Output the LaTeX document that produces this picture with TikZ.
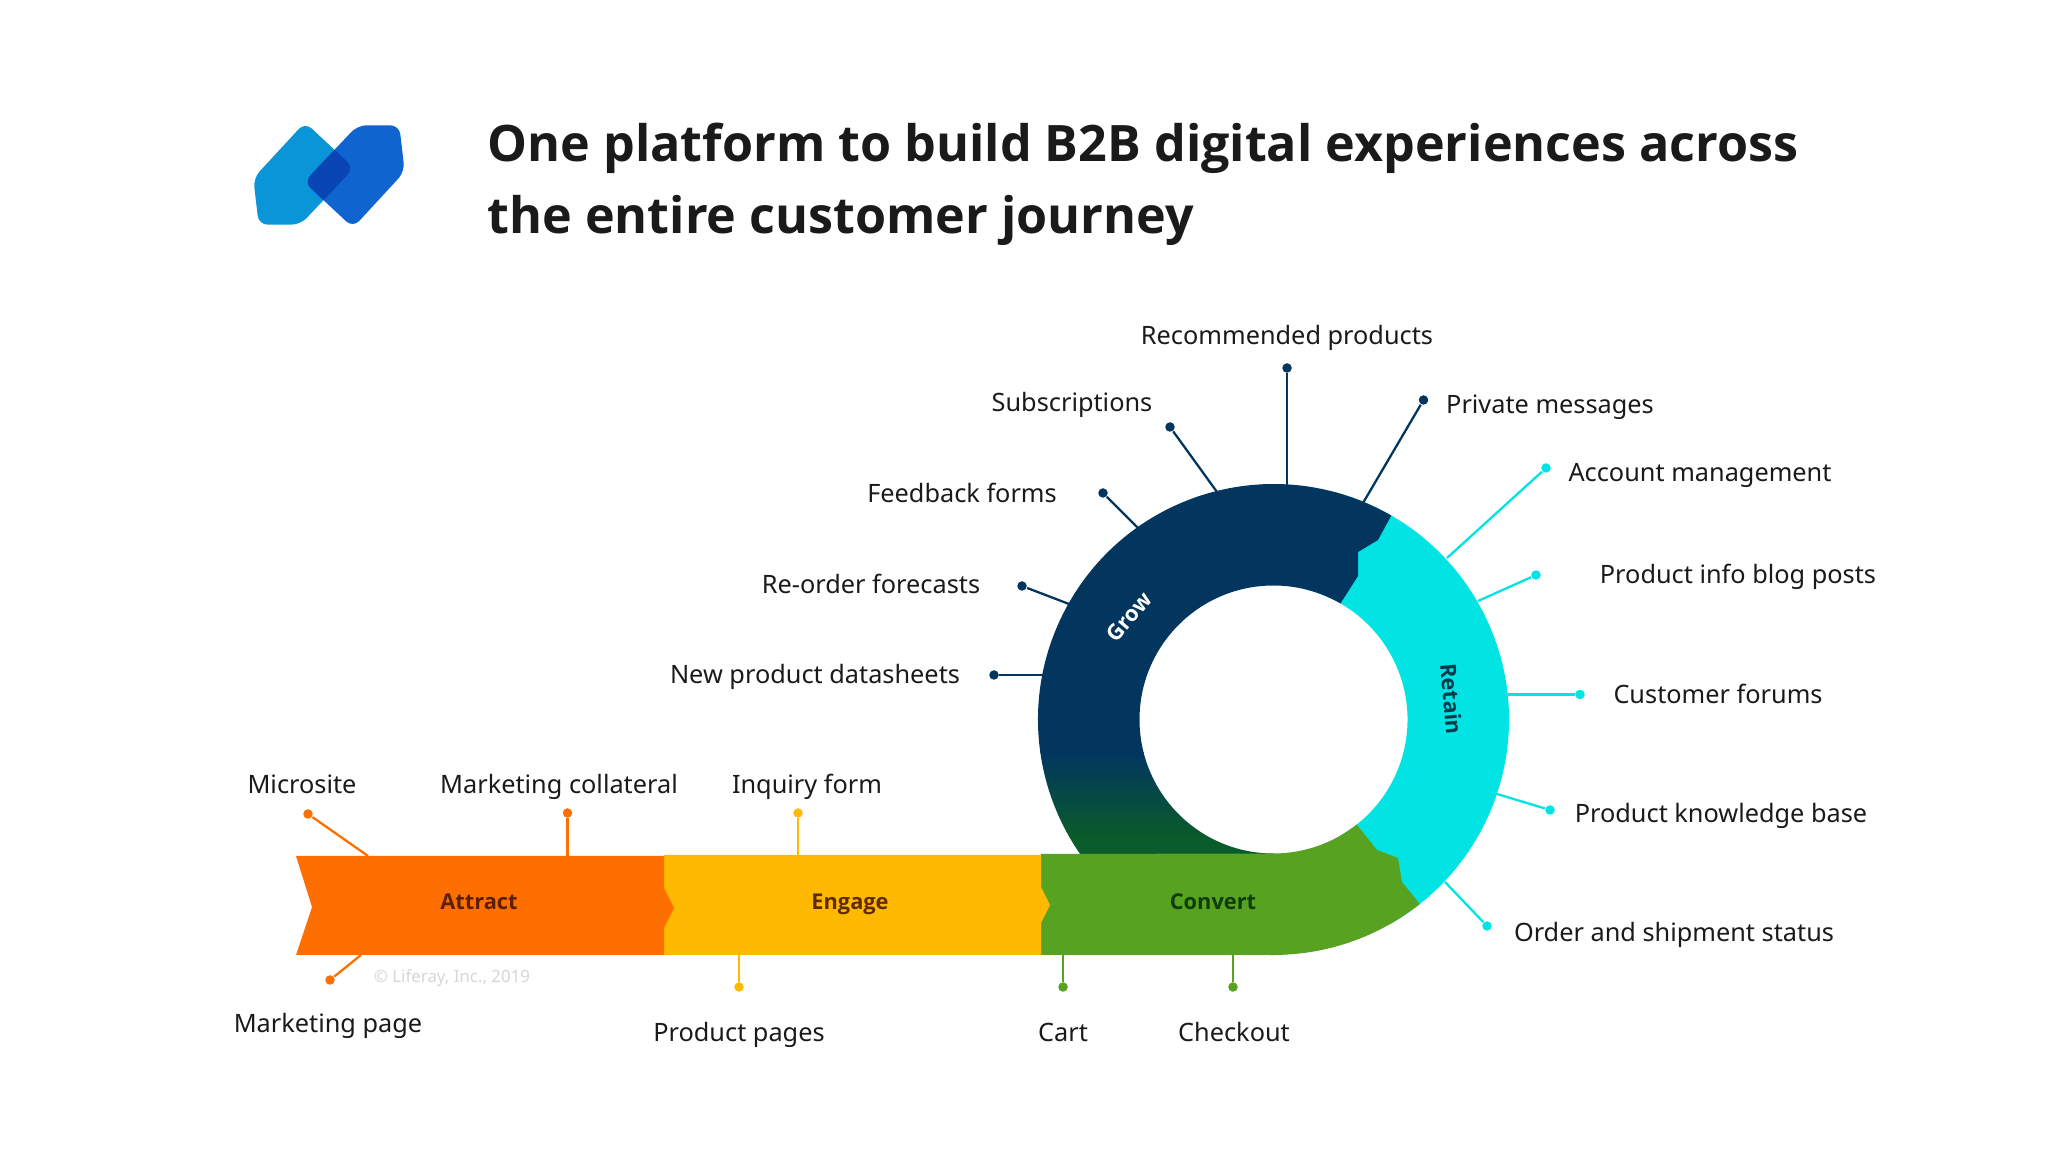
\documentclass[tikz,border=0pt]{standalone}
\usepackage{fontspec}
\setmainfont{Noto Sans}
\newfontfamily\headfont{Open Sans}
\definecolor{attractc}{HTML}{FF6F00}
\definecolor{engagec}{HTML}{FFB900}
\definecolor{convertc}{HTML}{57A221}
\definecolor{retainc}{HTML}{02E4E4}
\definecolor{growc}{HTML}{02365F}
\definecolor{growg}{HTML}{0A5C2A}
\definecolor{inkc}{HTML}{1A1A1A}
\newcommand{\logoleft}{(305,122.3) -- (354,168) -- (300.3,224.7) -- (258.7,224.7) -- (253.3,178.3) -- cycle}
\newcommand{\logoright}{(353,227.7) -- (304,182) -- (357.7,125.3) -- (399.3,125.3) -- (404.7,171.7) -- cycle}
\begin{document}
\begin{tikzpicture}[x=.1mm,y=-.1mm,
  lab/.style={text=inkc,font=\fontsize{7.2}{9}\selectfont,inner sep=0pt,text height=5.6pt,text depth=0pt},
  stage/.style={font=\headfont\fontsize{6.2}{8}\selectfont\bfseries,inner sep=0pt,text height=5pt,text depth=0pt},
  dot/.style={circle,fill=#1,inner sep=0pt,minimum size=.95mm},
  lead/.style={draw=#1,line width=.65pt}]
  \useasboundingbox (0,0) rectangle (2048,1152);

  % logo
  \fill[rounded corners=.9mm,color={rgb,255:red,10;green,149;blue,217}] \logoleft;
  \fill[rounded corners=.9mm,color={rgb,255:red,15;green,100;blue,208}] \logoright;
  \begin{scope}
    \clip[rounded corners=.9mm] \logoleft;
    \fill[rounded corners=.9mm,color={rgb,255:red,10;green,69;blue,181}] \logoright;
  \end{scope}
  \node[anchor=west,align=left,inner sep=0pt,text=inkc,font=\headfont\fontsize{14.3}{20.5}\selectfont\bfseries] (title) at (487,184)
    {One platform to build B2B digital experiences across\\the entire customer journey};

  % ring
  \coordinate (ctr) at (1273.5,719.5);
  \fill[retainc] ([shift={(75:23.55mm)}]ctr) arc[start angle=75,end angle=-60,radius=23.55mm]
    -- ([shift={(-60:13.4mm)}]ctr) arc[start angle=-60,end angle=75,radius=13.4mm] -- cycle;
  \begin{scope}
    \clip (1391.25,515.6) arc[start angle=60,end angle=270,radius=23.55mm]
      -- (1273.5,853.5) arc[start angle=270,end angle=60,radius=13.4mm]
      -- (1358,576) -- (1358,552) -- (1378,540) -- cycle;
    \fill[growc] (1000,450) rectangle (1420,753);
    \shade[top color=growc,bottom color=growg] (1000,753) rectangle (1420,838);
    \fill[growg] (1000,838) rectangle (1420,960);
  \end{scope}

  % band
  \fill[convertc] (1041,854) -- (1273.5,853.5) arc[start angle=-90,end angle=-51.6,radius=13.4mm]
    -- (1377,850) -- (1398,858) -- (1402,882) -- (1419.8,904)
    arc[start angle=-51.6,end angle=-90,radius=23.55mm] -- (1041,955) -- cycle;
  \fill[engagec] (664,855) -- (1041,855) -- (1041,887) -- (1050,905) -- (1041,923) -- (1041,955) -- (664,955) -- cycle;
  \fill[attractc] (296,856) -- (664,856) -- (664,888) -- (674,908) -- (664,928) -- (664,955) -- (296,955) -- (312,907) -- cycle;

  \node[stage,text={rgb,255:red,90;green,32;blue,0}] (attract) at (479,901) {Attract};
  \node[stage,text={rgb,255:red,95;green,44;blue,0}] (engage) at (850,901) {Engage};
  \node[stage,text={rgb,255:red,15;green,61;blue,10}] (convert) at (1213,901) {Convert};
  \node[stage,text=white,rotate=50] (grow) at (1128,616) {Grow};
  \node[stage,text={rgb,255:red,4;green,58;blue,74},rotate=-85] (retain) at (1452,699) {Retain};
  \node[inner sep=0pt,text depth=0pt,text={rgb,255:red,214;green,214;blue,214},font=\fontsize{4.8}{6}\selectfont] (copy) at (452,976) {© Liferay, Inc., 2019};

  % attract leads
  \node[dot=attractc] (micdot) at (308,814) {};
  \node[dot=attractc] (coldot) at (567.5,813) {};
  \node[dot=attractc] (mktdot) at (330,980) {};
  \coordinate (micend) at (368,856);
  \coordinate (colend) at (567.5,856);
  \coordinate (mktend) at (361,955);
  \draw[lead=attractc] (micdot) -- (micend);
  \draw[lead=attractc] (coldot) -- (colend);
  \draw[lead=attractc] (mktdot) -- (mktend);
  \node[lab] (mic) at (302,784) {Microsite};
  \node[lab] (col) at (559,784) {Marketing collateral};
  \node[lab] (mkt) at (328,1023) {Marketing page};

  % engage leads
  \node[dot=engagec] (inqdot) at (798,813) {};
  \node[dot=engagec] (prodot) at (739,987) {};
  \coordinate (inqend) at (798,855);
  \coordinate (proend) at (739,955);
  \draw[lead=engagec] (inqdot) -- (inqend);
  \draw[lead=engagec] (prodot) -- (proend);
  \node[lab] (inq) at (807,784) {Inquiry form};
  \node[lab] (pro) at (739,1032) {Product pages};

  % convert leads
  \node[dot=convertc] (cardot) at (1063,987) {};
  \node[dot=convertc] (chkdot) at (1233,987) {};
  \coordinate (carend) at (1063,955);
  \coordinate (chkend) at (1233,955);
  \draw[lead=convertc] (cardot) -- (carend);
  \draw[lead=convertc] (chkdot) -- (chkend);
  \node[lab] (car) at (1063,1032) {Cart};
  \node[lab] (chk) at (1234,1032) {Checkout};

  % grow leads
  \node[dot=growc] (newdot) at (994,675) {};
  \node[dot=growc] (reodot) at (1022,586) {};
  \node[dot=growc] (feedot) at (1103,493) {};
  \node[dot=growc] (subdot) at (1170,427) {};
  \node[dot=growc] (recdot) at (1287,368) {};
  \node[dot=growc] (pridot) at (1423.5,400) {};
  \coordinate (newend) at (1043,675);
  \coordinate (reoend) at (1069,604);
  \coordinate (feeend) at (1138,528);
  \coordinate (subend) at (1217,492);
  \coordinate (recend) at (1287,485);
  \coordinate (priend) at (1363,503);
  \draw[lead=growc] (newdot) -- (newend);
  \draw[lead=growc] (reodot) -- (reoend);
  \draw[lead=growc] (feedot) -- (feeend);
  \draw[lead=growc] (subdot) -- (subend);
  \draw[lead=growc] (recdot) -- (recend);
  \draw[lead=growc] (pridot) -- (priend);
  \node[lab] (new) at (815,674) {New product datasheets};
  \node[lab] (reo) at (871,584) {Re-order forecasts};
  \node[lab] (fee) at (962,493) {Feedback forms};
  \node[lab] (sub) at (1072,402) {Subscriptions};
  \node[lab] (rec) at (1287,335) {Recommended products};
  \node[lab] (pri) at (1550,404) {Private messages};

  % retain leads
  \node[dot=retainc] (accdot) at (1546,468) {};
  \node[dot=retainc] (blgdot) at (1536,575) {};
  \node[dot=retainc] (fordot) at (1580,694.5) {};
  \node[dot=retainc] (kdgdot) at (1550,810) {};
  \node[dot=retainc] (orddot) at (1487,926) {};
  \coordinate (accend) at (1447,558);
  \coordinate (blgend) at (1478,601);
  \coordinate (forend) at (1508,694.5);
  \coordinate (kdgend) at (1497,794);
  \coordinate (ordend) at (1445,882);
  \draw[lead=retainc] (accdot) -- (accend);
  \draw[lead=retainc] (blgdot) -- (blgend);
  \draw[lead=retainc] (fordot) -- (forend);
  \draw[lead=retainc] (kdgdot) -- (kdgend);
  \draw[lead=retainc] (orddot) -- (ordend);
  \node[lab] (acc) at (1700,472) {Account management};
  \node[lab] (blg) at (1738,574) {Product info blog posts};
  \node[lab] (for) at (1718,694) {Customer forums};
  \node[lab] (kdg) at (1721,813) {Product knowledge base};
  \node[lab] (ord) at (1674,932) {Order and shipment status};
\end{tikzpicture}
\end{document}
